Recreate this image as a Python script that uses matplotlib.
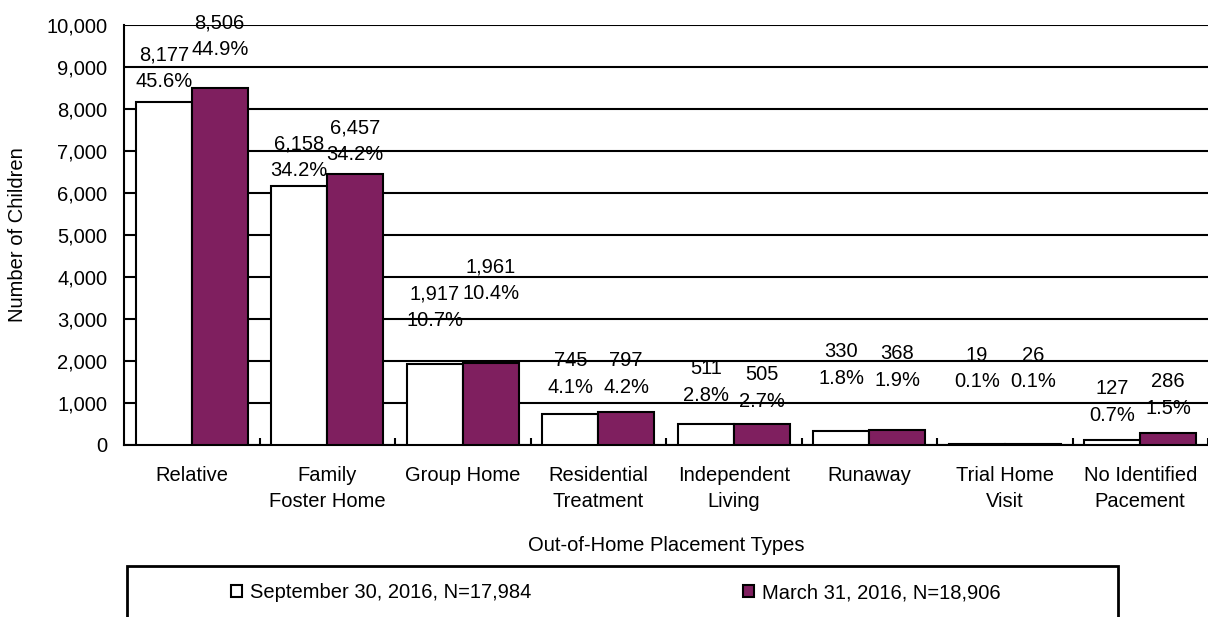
import matplotlib
matplotlib.use('Agg')
import matplotlib.pyplot as plt
import numpy as np
from matplotlib.patches import Rectangle, Patch

plt.rcParams['font.family'] = ['Liberation Sans', 'DejaVu Sans']

# data
categories = ['Relative', 'Family\nFoster Home', 'Group Home', 'Residential\nTreatment',
              'Independent\nLiving', 'Runaway', 'Trial Home\nVisit', 'No Identified\nPacement']
sep_2016 = [8177, 6158, 1917, 745, 511, 330, 19, 127]
mar_2016 = [8506, 6457, 1961, 797, 505, 368, 26, 286]
sep_pct = ['45.6%', '34.2%', '10.7%', '4.1%', '2.8%', '1.8%', '0.1%', '0.7%']
mar_pct = ['44.9%', '34.2%', '10.4%', '4.2%', '2.7%', '1.9%', '0.1%', '1.5%']
series_names = ['September 30, 2016, N=17,984', 'March 31, 2016, N=18,906']

# where the data labels sit (centre of the two-line block, in data units)
sep_label_y = [8976, 6845, 3274, 1690, 1500, 1905, 1821, 1024]
mar_label_y = [9726, 7226, 3917, 1690, 1357, 1857, 1821, 1190]

purple = '#7f1f5f'
fs = 14.5

fig = plt.figure(figsize=(12.08, 6.17), dpi=100)
ax = fig.add_axes([124 / 1208, 1 - 445 / 617, 1 - 124 / 1208, (445 - 25) / 617])

x = np.arange(len(categories))
w = 0.413
ax.bar(x - w / 2, sep_2016, w, color='white', edgecolor='black', linewidth=1.5, zorder=3)
ax.bar(x + w / 2, mar_2016, w, color=purple, edgecolor='black', linewidth=1.5, zorder=3)

for i in range(len(categories)):
    ax.text(x[i] - w / 2, sep_label_y[i], f"{sep_2016[i]:,}\n{sep_pct[i]}", ha='center', va='center',
            fontsize=fs, linespacing=1.5, zorder=2)
    ax.text(x[i] + w / 2, mar_label_y[i], f"{mar_2016[i]:,}\n{mar_pct[i]}", ha='center', va='center',
            fontsize=fs, linespacing=1.5, zorder=2)

ax.set_xlim(-0.5, len(categories) - 0.5)
ax.set_ylim(0, 10000)
ax.set_yticks(np.arange(0, 10001, 1000))
ax.set_yticklabels([f"{v:,}" for v in range(0, 10001, 1000)], fontsize=fs)
ax.yaxis.grid(True, color='black', linewidth=1.5, zorder=0)
ax.set_axisbelow(True)
ax.tick_params(axis='y', length=0, pad=12)

ax.set_xticks(x)
ax.set_xticklabels(categories, fontsize=fs, linespacing=1.45)
ax.set_xticks(np.arange(0.5, len(categories) - 0.5 + 0.01, 1), minor=True)
ax.tick_params(axis='x', which='major', length=0, pad=15)
ax.tick_params(axis='x', which='minor', direction='in', length=5, width=1.5)

for s in ['top', 'right']:
    ax.spines[s].set_visible(False)
ax.spines['left'].set_linewidth(1.5)
ax.spines['bottom'].set_linewidth(1.5)

ax.set_xlabel('Out-of-Home Placement Types', fontsize=fs, labelpad=18)
ax.set_ylabel('Number of Children', fontsize=fs, labelpad=14)

# legend box
fig.patches.append(Rectangle((127 / 1208, -0.05), (1118 - 127) / 1208, 0.05 + (617 - 566) / 617,
                             transform=fig.transFigure, facecolor='white', edgecolor='black',
                             linewidth=2, clip_on=False))
handles = [Patch(facecolor='white', edgecolor='black', linewidth=1.5),
           Patch(facecolor=purple, edgecolor='black', linewidth=1.5)]
fig.legend(handles, series_names, loc='center left', bbox_to_anchor=(213 / 1208, 1 - 593 / 617),
           ncol=2, frameon=False, fontsize=fs, handlelength=0.55, handleheight=0.55,
           handletextpad=0.4, columnspacing=10.5)

fig.savefig('out.png', dpi=100)
